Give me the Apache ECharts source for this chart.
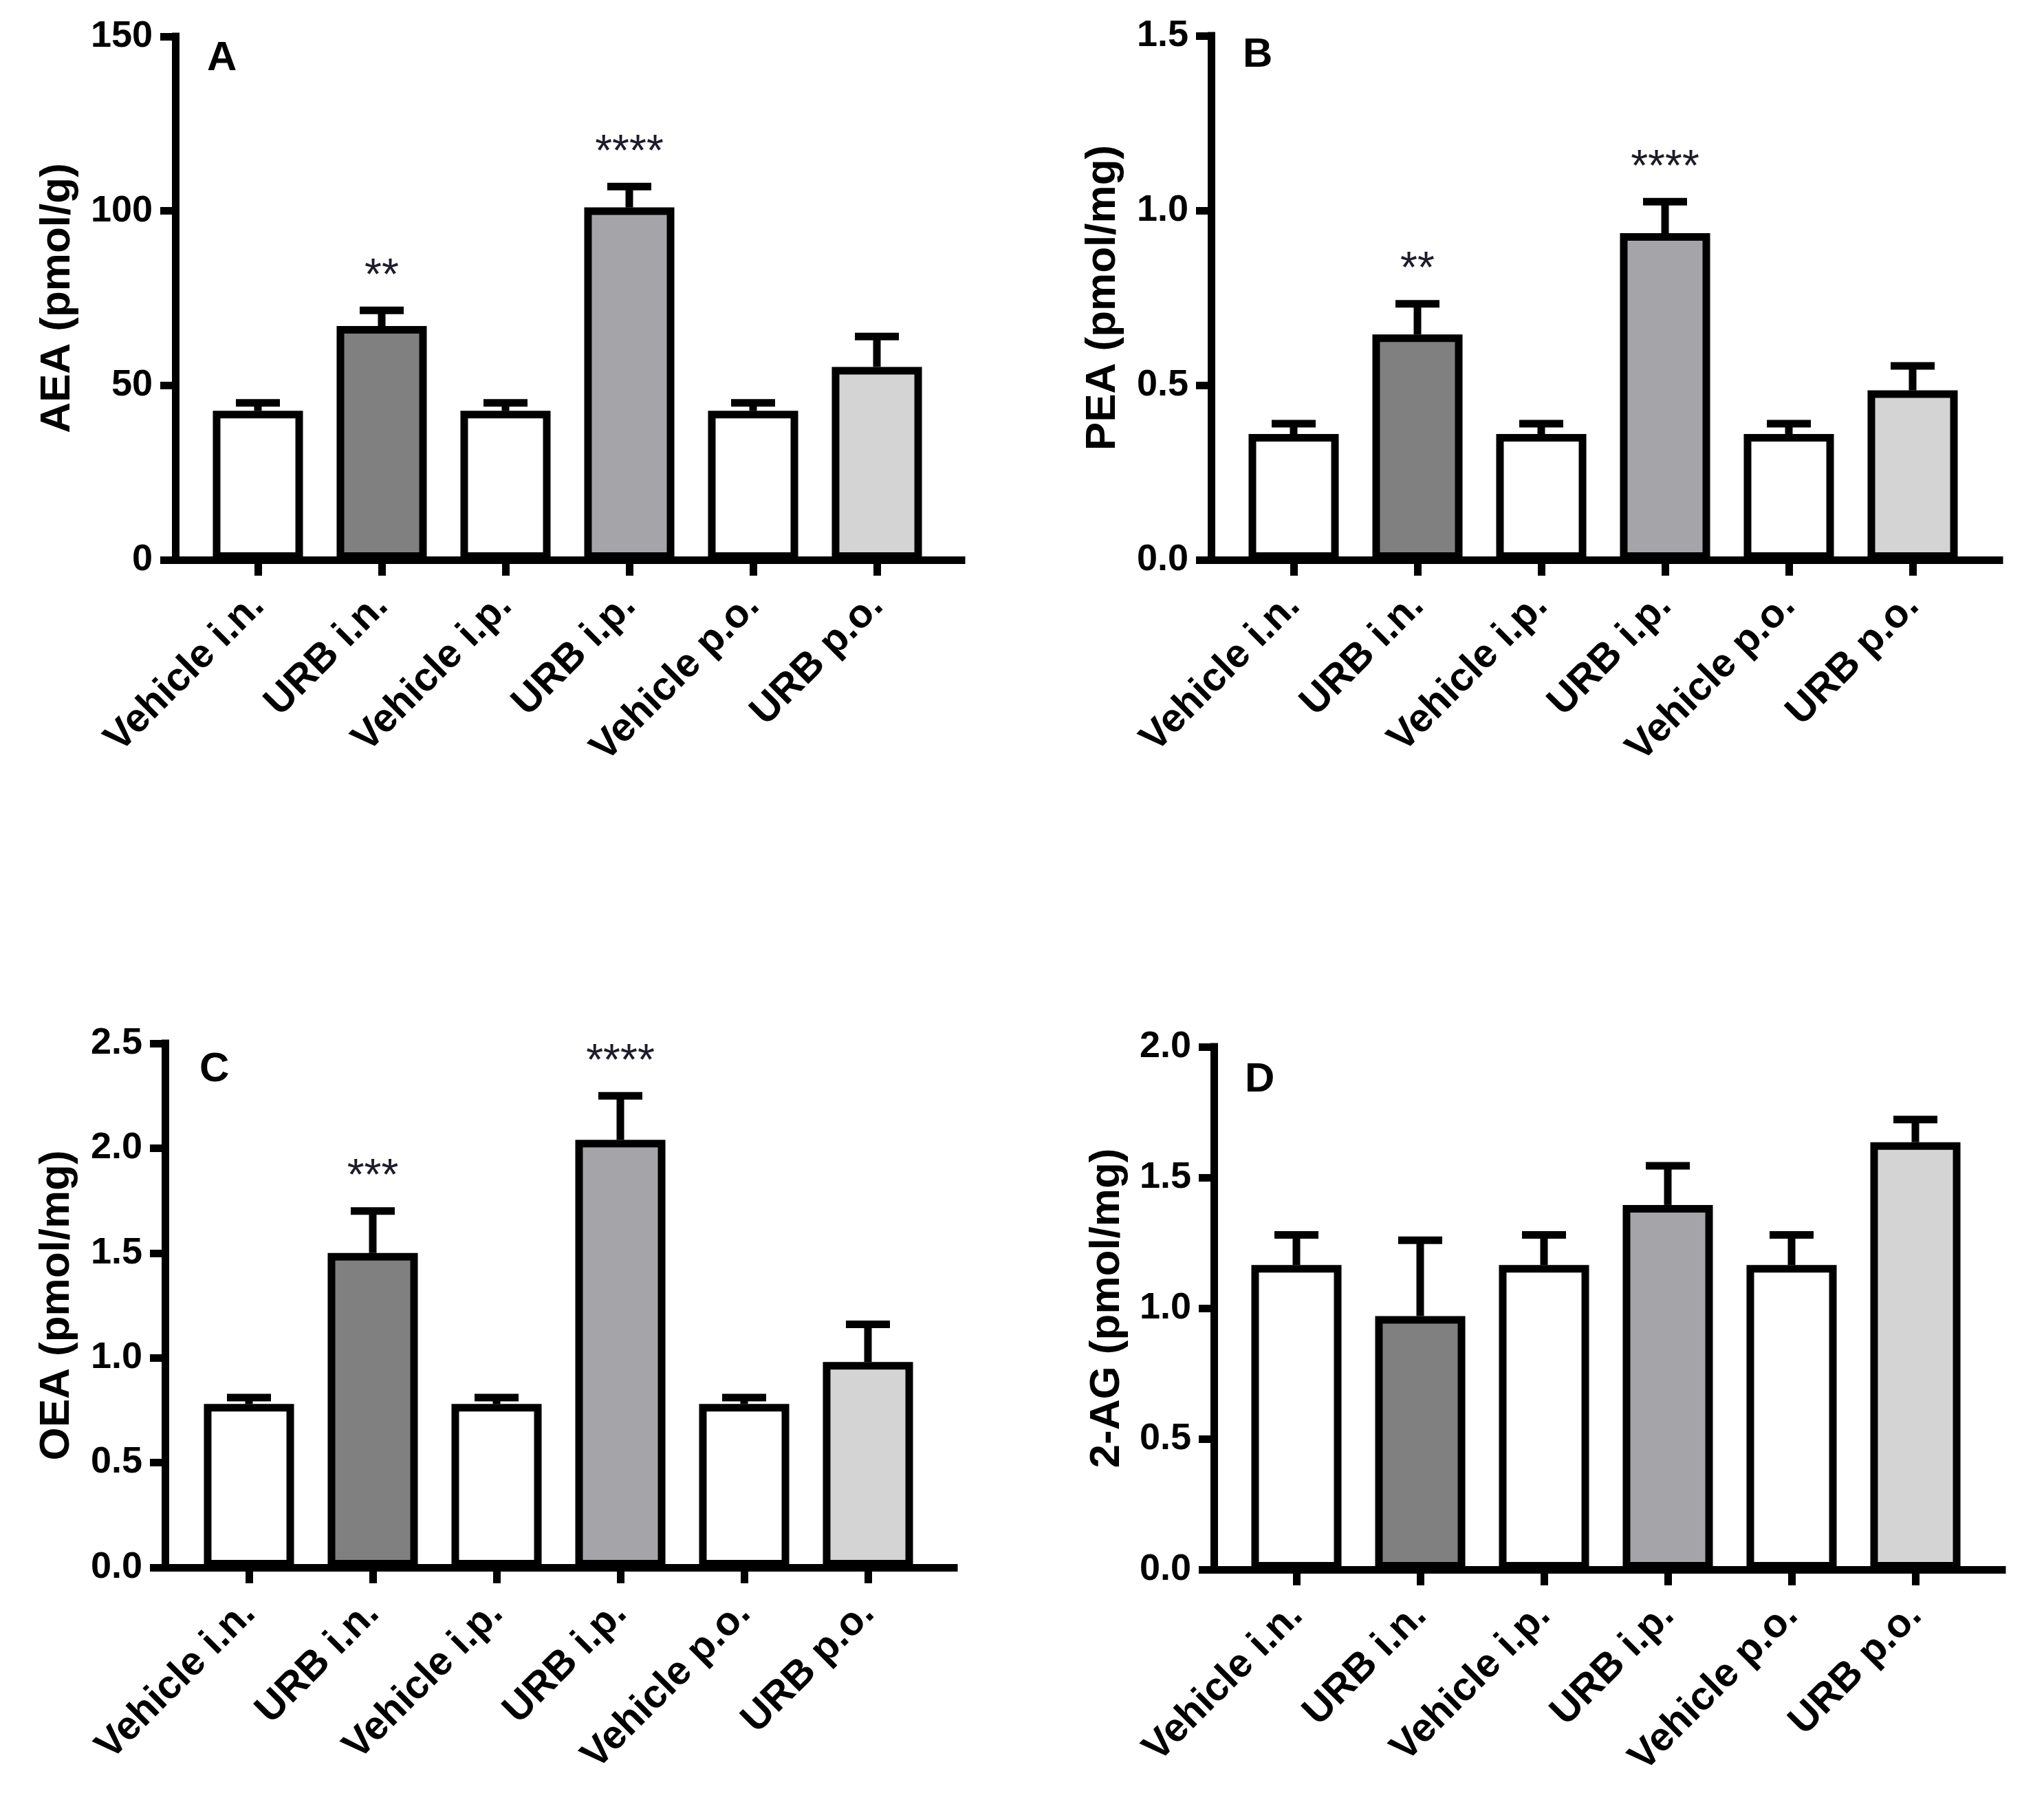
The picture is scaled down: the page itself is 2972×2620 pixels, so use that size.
<!DOCTYPE html>
<html>
<head>
<meta charset="utf-8">
<script src="https://cdn.jsdelivr.net/npm/echarts@6/dist/echarts.min.js"></script>
</head>
<body style="margin:0;background:#fff">
<div id="container" style="width:2972px;height:2620px"></div>
<script type="text/javascript">
// groups on the x axis
var categories = ['Vehicle i.n.', 'URB i.n.', 'Vehicle i.p.', 'URB i.p.', 'Vehicle p.o.', 'URB p.o.'];
var fills = ['#ffffff', '#808080', '#ffffff', '#a4a4a9', '#ffffff', '#d4d4d4'];

// A - AEA (pmol/g)
var aeaMean = [42.7, 67, 42.7, 101, 42.7, 55.3];
var aeaSem = [2.3, 4.5, 2.3, 6, 2.3, 8.7];
var aeaStars = ['', '**', '', '****', '', ''];

// B - PEA (pmol/mg)
var peaMean = [0.36, 0.645, 0.36, 0.935, 0.36, 0.485];
var peaSem = [0.03, 0.088, 0.03, 0.09, 0.03, 0.07];
var peaStars = ['', '**', '', '****', '', ''];

// C - OEA (pmol/mg)
var oeaMean = [0.78, 1.5, 0.78, 2.04, 0.78, 0.98];
var oeaSem = [0.03, 0.2, 0.03, 0.21, 0.03, 0.18];
var oeaStars = ['', '***', '', '****', '', ''];

// D - 2-AG (pmol/mg)
var agMean = [1.165, 0.97, 1.165, 1.395, 1.165, 1.635];
var agSem = [0.115, 0.29, 0.115, 0.15, 0.115, 0.087];
var agStars = ['', '', '', '', '', ''];

var FONT = '"Liberation Sans", Arial, sans-serif';
var LW = 11;

var panels = [
    {letter: 'A', name: 'AEA (pmol/g)', mean: aeaMean, sem: aeaSem, stars: aeaStars,
     max: 150, interval: 50, dec: 0,
     axisX: 255, left: 285, right: 1365, end: 1398, top: 53, bottom: 814, nameGap: 140,
     lx: 301, ly: 55},
    {letter: 'B', name: 'PEA (pmol/mg)', mean: peaMean, sem: peaSem, stars: peaStars,
     max: 1.5, interval: 0.5, dec: 1,
     axisX: 1761, left: 1791, right: 2871, end: 2907, top: 52, bottom: 814, nameGap: 126,
     lx: 1807, ly: 50},
    {letter: 'C', name: 'OEA (pmol/mg)', mean: oeaMean, sem: oeaSem, stars: oeaStars,
     max: 2.5, interval: 0.5, dec: 1,
     axisX: 240, left: 272, right: 1352, end: 1387, top: 1517, bottom: 2279, nameGap: 126,
     lx: 290, ly: 1525},
    {letter: 'D', name: '2-AG (pmol/mg)', mean: agMean, sem: agSem, stars: agStars,
     max: 2.0, interval: 0.5, dec: 1,
     axisX: 1765, left: 1795, right: 2875, end: 2911, top: 1522, bottom: 2282, nameGap: 124,
     lx: 1810, ly: 1540}
];

var option = {
    backgroundColor: '#fff',
    animation: false,
    textStyle: {fontFamily: FONT},
    title: [],
    grid: [],
    xAxis: [],
    yAxis: [],
    series: []
};

panels.forEach(function (p) {
    var g = option.grid.length;
    // plotting grid for the bars
    option.grid.push({left: p.left, top: p.top, width: p.right - p.left, height: p.bottom - p.top});
    // wider grid only used to draw the long x axis line
    option.grid.push({left: p.axisX, top: p.top, width: p.end - p.axisX, height: p.bottom - p.top});

    option.title.push({
        text: p.letter, left: p.lx, top: p.ly, padding: 0,
        textStyle: {fontSize: 60, fontWeight: 'bold', color: '#000', fontFamily: FONT}
    });

    var xi = option.xAxis.length;
    option.xAxis.push({
        type: 'category', gridIndex: g, data: categories,
        axisLine: {show: false},
        axisTick: {show: true, alignWithLabel: true, length: 23, lineStyle: {width: LW, color: '#000'}},
        axisLabel: {rotate: 45, fontSize: 58, fontWeight: 'bold', color: '#000', margin: 58, fontFamily: FONT, interval: 0},
        splitLine: {show: false}
    });
    option.xAxis.push({
        type: 'value', gridIndex: g + 1, min: 0, max: 1,
        axisLine: {show: true, onZero: false, lineStyle: {width: LW, color: '#000', cap: 'square'}},
        axisTick: {show: false}, axisLabel: {show: false}, splitLine: {show: false}
    });

    var yi = option.yAxis.length;
    option.yAxis.push({
        type: 'value', gridIndex: g, min: 0, max: p.max, interval: p.interval,
        offset: p.left - p.axisX,
        name: p.name, nameLocation: 'middle', nameGap: p.nameGap,
        nameTextStyle: {fontSize: 62, fontWeight: 'bold', color: '#000', fontFamily: FONT},
        axisLine: {show: true, lineStyle: {width: LW, color: '#000', cap: 'square'}},
        axisTick: {show: true, length: 22, lineStyle: {width: LW, color: '#000'}},
        axisLabel: {fontSize: 54, fontWeight: 'bold', color: '#000', margin: 33, fontFamily: FONT,
            formatter: function (v) { return v.toFixed(p.dec); }},
        splitLine: {show: false}
    });
    option.yAxis.push({type: 'value', gridIndex: g + 1, min: 0, max: 1, show: false});

    option.series.push({
        type: 'bar', xAxisIndex: xi, yAxisIndex: yi,
        barWidth: '72.8%',
        data: p.mean.map(function (v, i) {
            return {value: v, itemStyle: {color: fills[i]}};
        }),
        itemStyle: {borderColor: '#000', borderWidth: LW},
        z: 2
    });

    // error bars (upper half only) and significance stars
    option.series.push({
        type: 'custom', xAxisIndex: xi, yAxisIndex: yi, z: 3,
        encode: {x: 0, y: 1},
        data: p.mean.map(function (v, i) { return [i, v, p.sem[i]]; }),
        renderItem: function (params, api) {
            var i = api.value(0), m = api.value(1), e = api.value(2);
            var base = api.coord([i, m]);
            var top = api.coord([i, m + e]);
            var cap = 32;
            var children = [
                {type: 'line', shape: {x1: base[0], y1: base[1], x2: top[0], y2: top[1]},
                 style: {stroke: '#000', lineWidth: LW}},
                {type: 'line', shape: {x1: top[0] - cap, y1: top[1], x2: top[0] + cap, y2: top[1]},
                 style: {stroke: '#000', lineWidth: LW}}
            ];
            var s = p.stars[i];
            if (s) {
                children.push({type: 'text', style: {
                    text: s, x: top[0], y: top[1] - 48,
                    align: 'center', verticalAlign: 'middle',
                    fontSize: 64, fontFamily: FONT, fill: '#1c1c2a'
                }});
            }
            return {type: 'group', children: children};
        }
    });
});

var chart = echarts.init(document.getElementById('container'), null, {renderer: 'canvas'});
chart.setOption(option);
</script>
</body>
</html>
